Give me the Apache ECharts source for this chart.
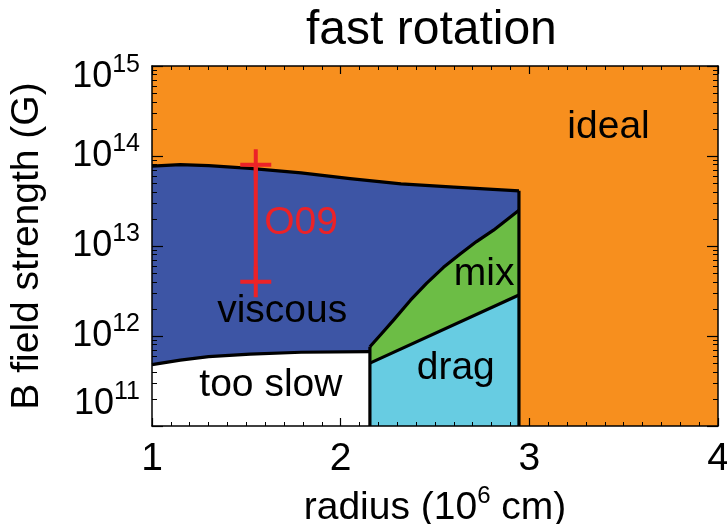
<!DOCTYPE html>
<html><head><meta charset="utf-8">
<script src="https://cdn.jsdelivr.net/npm/echarts@6/dist/echarts.min.js"></script>
<style>html,body{margin:0;padding:0;background:#fff}#c{width:727px;height:524px}</style>
</head><body><div id="c"></div>
<script>
// ---- data ----
const radiusUpper = [1.0, 1.15, 1.3, 1.52, 1.79, 2.05, 2.32, 2.6, 2.945];
const bUpper = [7.7e13, 8.0e13, 7.8e13, 7.3e13, 6.5e13, 5.6e13, 4.9e13, 4.5e13, 4.1e13];
const radiusSlow = [1.0, 1.15, 1.3, 1.52, 1.79, 2.155];
const bSlow = [4.8e11, 5.4e11, 5.9e11, 6.3e11, 6.6e11, 6.7e11];
const radiusMix = [2.155, 2.22, 2.28, 2.37, 2.455, 2.545, 2.635, 2.72, 2.81, 2.945];
const bMix = [7.6e11, 1.08e12, 1.5e12, 2.5e12, 3.85e12, 5.8e12, 8.2e12, 1.12e13, 1.5e13, 2.5e13];
const radiusDrag = [2.155, 2.945];
const bDrag = [5.0e11, 2.85e12];
const obsRadius = [1.55, 1.55];
const obsB = [4.0e12, 8.0e13];
const regionNames = ['ideal', 'viscous', 'too slow', 'mix', 'drag', 'O09'];
const regionRadius = [3.42, 1.69, 1.63, 2.76, 2.61, 1.79];
const regionB = [2.1e14, 1.87e12, 2.86e11, 4.9e12, 4.4e11, 1.8e13];
const xTicks = [1, 2, 3, 4];
const yTicks = [1e11, 1e12, 1e13, 1e14, 1e15];
const yMinorTicks = [];
for (let d = 0; d < yTicks.length - 1; d++) for (let m = 2; m <= 9; m++) yMinorTicks.push(m * yTicks[d]);

// ---- styles ----
const FONT = '"Liberation Sans", Arial, Helvetica, sans-serif';
const C = { ideal: '#F78F1E', viscous: '#3D55A5', slow: '#FFFFFF', mix: '#6CBD45', drag: '#67CCE2', red: '#EC2227', ink: '#000000' };

const zip = (xs, ys) => xs.map((x, i) => [x, ys[i]]);
const upper = zip(radiusUpper, bUpper), slow = zip(radiusSlow, bSlow), mix = zip(radiusMix, bMix), drag = zip(radiusDrag, bDrag);
const yMin = yTicks[0], yMax = yTicks[yTicks.length - 1];
const last = a => a[a.length - 1];
// keep the extreme tick values just inside the axis extent (floating point in log space)
const yTickVals = yTicks.map((v, i) => i === yTicks.length - 1 ? v * 0.9999 : (i === 0 ? v * 1.0001 : v));
const viscousPoly = upper.concat(mix.slice().reverse(), slow.slice().reverse());
const slowPoly = slow.concat([[last(slow)[0], yMin], [slow[0][0], yMin]]);
const mixPoly = mix.concat(drag.slice().reverse());
const dragPoly = drag.concat([[last(drag)[0], yMin], [drag[0][0], yMin]]);

function polySeries(name, pts, color) {
  return {
    type: 'custom', name, data: pts, z: 1, silent: true,
    renderItem: (params, api) => {
      if (params.dataIndex !== 0) return null;
      return { type: 'polygon', shape: { points: pts.map(p => api.coord(p)) }, style: { fill: color } };
    }
  };
}
function lineSeries(pts, color, width, z) {
  return { type: 'line', data: pts, showSymbol: false, symbol: 'none', silent: true, z: z || 3,
    lineStyle: { color, width, join: 'round' }, animation: false };
}

const plus = 'path://M13.5,0h4v13.5h13.5v4h-13.5v13.5h-4v-13.5h-13.5v-4h13.5z';

const axisCommonX = {
  type: 'value', min: xTicks[0], max: last(xTicks), interval: 1, z: 10,
  axisLine: { show: true, lineStyle: { color: C.ink, width: 1.5 } },
  axisTick: { show: true, inside: true, length: 8, lineStyle: { color: C.ink, width: 1.2 } },
  minorTick: { show: true, splitNumber: 10, length: 4, lineStyle: { color: C.ink, width: 1 } },
  splitLine: { show: false }, minorSplitLine: { show: false }
};
const axisCommonY = {
  type: 'log', logBase: 10, min: yMin, max: yMax, z: 10,
  splitLine: { show: false }, minorSplitLine: { show: false }, minorTick: { show: false }
};

const option = {
  animation: false,
  backgroundColor: '#ffffff',
  textStyle: { fontFamily: FONT },
  title: { text: 'fast rotation', left: 306, top: 7, padding: 0,
    textStyle: { fontSize: 48, fontWeight: 'normal', color: C.ink, fontFamily: FONT } },
  grid: { left: 152, right: 9, top: 66, bottom: 98, show: true, backgroundColor: C.ideal, borderWidth: 0,
    containLabel: false, outerBoundsMode: 'none' },
  xAxis: [
    Object.assign({}, axisCommonX, {
      position: 'bottom',
      axisLabel: { show: true, fontSize: 39, color: C.ink, margin: 14, fontFamily: FONT },
      name: '{a|radius (10}{s|6}{a| cm)}', nameLocation: 'middle', nameGap: 50,
      nameTextStyle: { color: C.ink, fontFamily: FONT, rich: {
        a: { fontSize: 39, lineHeight: 48, color: C.ink, fontFamily: FONT },
        s: { fontSize: 24, lineHeight: 24, verticalAlign: 'top', color: C.ink, fontFamily: FONT } } }
    }),
    Object.assign({}, axisCommonX, { position: 'top', axisLabel: { show: false } })
  ],
  yAxis: [
    Object.assign({}, axisCommonY, {
      position: 'left',
      axisLine: { show: true, lineStyle: { color: C.ink, width: 1.5 } },
      axisTick: { show: true, inside: true, length: 11, customValues: yTickVals, lineStyle: { color: C.ink, width: 1.2 } },
      axisLabel: { show: true, margin: 12, customValues: yTickVals, align: 'right', hideOverlap: false,
        showMinLabel: true, showMaxLabel: true,
        formatter: v => {
          const e = Math.round(Math.log10(v));
          const base = '{b|10}{s|' + e + '}';
          if (e >= 15) return '{t| }\n' + base;
          if (e <= 11) return base + '\n{u| }';
          return base;
        },
        rich: {
          b: { fontSize: 36, lineHeight: 48, color: C.ink, fontFamily: FONT },
          s: { fontSize: 25, lineHeight: 24, verticalAlign: 'top', color: C.ink, fontFamily: FONT },
          t: { fontSize: 2, lineHeight: 22 },
          u: { fontSize: 2, lineHeight: 44 }
        } },
      name: 'B field strength (G)', nameLocation: 'middle', nameGap: 105,
      nameTextStyle: { fontSize: 39, color: C.ink, fontFamily: FONT }
    }),
    Object.assign({}, axisCommonY, { position: 'left', axisLine: { show: false }, axisLabel: { show: false },
      axisTick: { show: true, inside: true, length: 5, customValues: yMinorTicks, lineStyle: { color: C.ink, width: 1 } } }),
    Object.assign({}, axisCommonY, { position: 'right',
      axisLine: { show: true, lineStyle: { color: C.ink, width: 1.5 } }, axisLabel: { show: false },
      axisTick: { show: true, inside: true, length: 11, customValues: yTickVals, lineStyle: { color: C.ink, width: 1.2 } } }),
    Object.assign({}, axisCommonY, { position: 'right', axisLine: { show: false }, axisLabel: { show: false },
      axisTick: { show: true, inside: true, length: 5, customValues: yMinorTicks, lineStyle: { color: C.ink, width: 1 } } })
  ],
  series: [
    polySeries('viscous', viscousPoly, C.viscous),
    polySeries('too slow', slowPoly, C.slow),
    polySeries('mix', mixPoly, C.mix),
    polySeries('drag', dragPoly, C.drag),
    lineSeries(upper, C.ink, 3.2),
    lineSeries(slow, C.ink, 3.2),
    lineSeries(mix, C.ink, 3.2),
    lineSeries(drag, C.ink, 3.2),
    lineSeries([[last(upper)[0], yMin], last(upper)], C.ink, 3.2),
    lineSeries([[mix[0][0], yMin], mix[0]], C.ink, 3.2),
    { type: 'line', data: zip(obsRadius, obsB), symbol: plus, symbolSize: 31, showSymbol: true, z: 5, silent: true,
      itemStyle: { color: C.red }, lineStyle: { color: C.red, width: 4 } },
    { type: 'scatter', z: 6, silent: true, symbolSize: 0, itemStyle: { color: C.ink },
      data: regionNames.map((n, i) => ({ name: n, value: [regionRadius[i], regionB[i]],
        label: n === 'O09' ? { color: C.red } : undefined })),
      label: { show: true, position: 'inside', formatter: '{b}', fontSize: 39, color: C.ink, opacity: 1,
        textBorderWidth: 0, fontFamily: FONT } }
  ]
};
const chart = echarts.init(document.getElementById('c'), null, { renderer: 'canvas' });
chart.setOption(option);
</script></body></html>
